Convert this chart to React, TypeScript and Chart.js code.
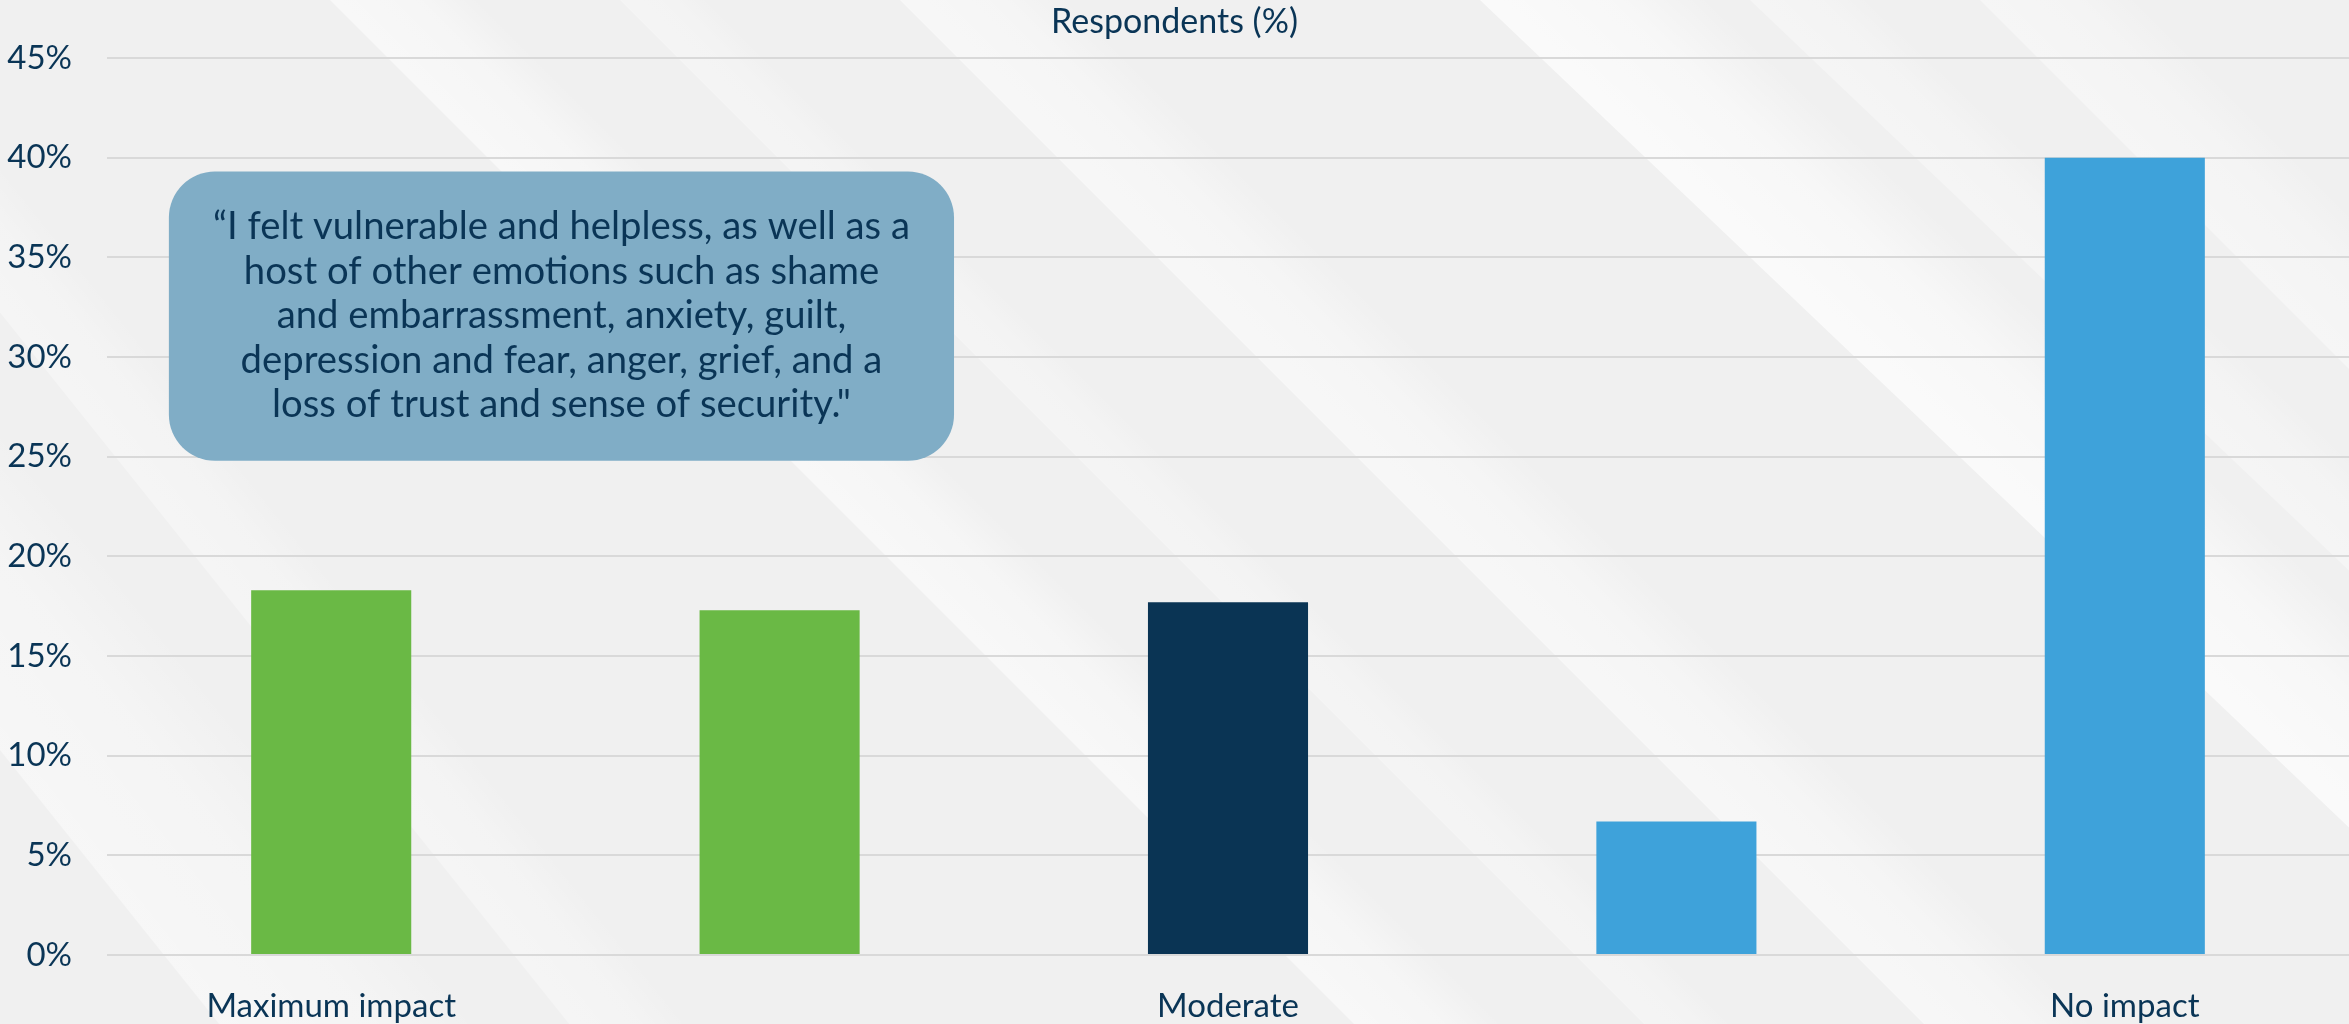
import React, { useEffect, useRef } from 'react';
import { Chart, registerables } from 'chart.js';

Chart.register(...registerables);

// ---- data ----
const categories = ['Maximum impact', '', 'Moderate', '', 'No impact'];
const values = [18.3, 17.3, 17.7, 6.7, 40.0];
const barColors = ['#6ab945', '#6ab945', '#0a3454', '#3ea2da', '#3ea2da'];
const yMin = 0;
const yMax = 45;
const yStep = 5;
const titleText = 'Respondents (%)';
const quoteLines = [
  '\u201CI felt vulnerable and helpless, as well as a',
  'host of other emotions such as shame',
  'and embarrassment, anxiety, guilt,',
  'depression and fear, anger, grief, and a',
  'loss of trust and sense of security."',
];
// annotation box in data coordinates (category index / percent)
const quoteBox = { xMin: -0.362, xMax: 1.389, yMin: 24.8, yMax: 39.3 };

const TEXT = '#0a3556';
const FONT = 'Lato';

// background bands: [x at top, width, alpha, slope dx/dy]
const bands: [number, number, number, number][] = [
  [-600, 260, 0.45, 0.8],
  [-250, 120, 0.35, 0.8],
  [330, 150, 0.55, 1.0],
  [620, 90, 0.3, 1.0],
  [900, 170, 0.5, 1.0],
  [1480, 230, 0.7, 1.05],
  [1750, 120, 0.35, 1.05],
  [1980, 160, 0.4, 1.0],
];

const backgroundPlugin = {
  id: 'bgStripes',
  beforeDraw(chart: any) {
    const { ctx, width, height } = chart;
    ctx.save();
    ctx.fillStyle = '#f0f0f0';
    ctx.fillRect(0, 0, width, height);
    for (const [x0, w, a, s] of bands) {
      const g = ctx.createLinearGradient(x0, 0, x0 + w, 0);
      g.addColorStop(0, `rgba(255,255,255,${a})`);
      g.addColorStop(0.6, `rgba(255,255,255,${a * 0.7})`);
      g.addColorStop(1, `rgba(255,255,255,0)`);
      ctx.fillStyle = g;
      ctx.setTransform(1, 0, s, 1, 0, 0);
      ctx.fillRect(x0, 0, w, height);
      ctx.setTransform(1, 0, 0, 1, 0, 0);
    }
    ctx.restore();
  },
};

const quotePlugin = {
  id: 'quoteBox',
  afterDraw(chart: any) {
    const { ctx, scales } = chart;
    const x1 = scales.x.getPixelForValue(quoteBox.xMin);
    const x2 = scales.x.getPixelForValue(quoteBox.xMax);
    const y1 = scales.y.getPixelForValue(quoteBox.yMax);
    const y2 = scales.y.getPixelForValue(quoteBox.yMin);
    ctx.save();
    ctx.fillStyle = '#80adc6';
    ctx.beginPath();
    (ctx as any).roundRect(x1, y1, x2 - x1, y2 - y1, 46);
    ctx.fill();
    // fit text size to the box
    let size = 34;
    ctx.font = `${size}px ${FONT}`;
    const w0 = ctx.measureText(quoteLines[0]).width;
    const targetW = (x2 - x1) * 0.888;
    size = size * targetW / w0;
    ctx.font = `${size}px ${FONT}`;
    ctx.fillStyle = TEXT;
    ctx.textAlign = 'center';
    ctx.textBaseline = 'middle';
    const lh = 44.5;
    const cx = (x1 + x2) / 2;
    const cy = (y1 + y2) / 2;
    const n = quoteLines.length;
    quoteLines.forEach((line, i) => {
      ctx.fillText(line, cx, cy + (i - (n - 1) / 2) * lh);
    });
    ctx.restore();
  },
};

export default function App() {
  const ref = useRef<HTMLCanvasElement>(null);
  useEffect(() => {
    document.body.style.margin = '0';
    const canvas = ref.current!;
    const chart = new Chart(canvas, {
      type: 'bar',
      data: {
        labels: categories,
        datasets: [
          {
            data: values,
            backgroundColor: barColors,
            borderWidth: 0,
            categoryPercentage: 1,
            barPercentage: 0.357,
          },
        ],
      },
      options: {
        animation: false,
        responsive: false,
        maintainAspectRatio: false,
        layout: { padding: { left: 0, right: 0, top: 0, bottom: 0 } },
        plugins: {
          legend: { display: false },
          tooltip: { enabled: false },
          title: {
            display: true,
            text: titleText,
            color: TEXT,
            font: { family: FONT, size: 34, weight: 'normal' as any, lineHeight: 1.2 },
            padding: { top: 2, bottom: 15.2 },
          },
        },
        scales: {
          x: {
            grid: { display: false },
            border: { display: false },
            ticks: {
              color: TEXT,
              font: { family: FONT, size: 33 },
              padding: 24,
              maxRotation: 0,
              autoSkip: false,
            },
            afterFit(scale: any) {
              scale.height = 69;
            },
          },
          y: {
            min: yMin,
            max: yMax,
            grid: { color: '#d9d9d9', lineWidth: 2, drawTicks: false },
            border: { display: false },
            ticks: {
              stepSize: yStep,
              color: TEXT,
              font: { family: FONT, size: 33 },
              padding: 35,
              callback: (v: any) => `${v}%`,
            },
            afterFit(scale: any) {
              scale.width = 107;
            },
          },
        },
      },
      plugins: [backgroundPlugin, quotePlugin],
    });
    return () => chart.destroy();
  }, []);
  return <canvas ref={ref} width={2349} height={1024} style={{ display: 'block' }} />;
}
